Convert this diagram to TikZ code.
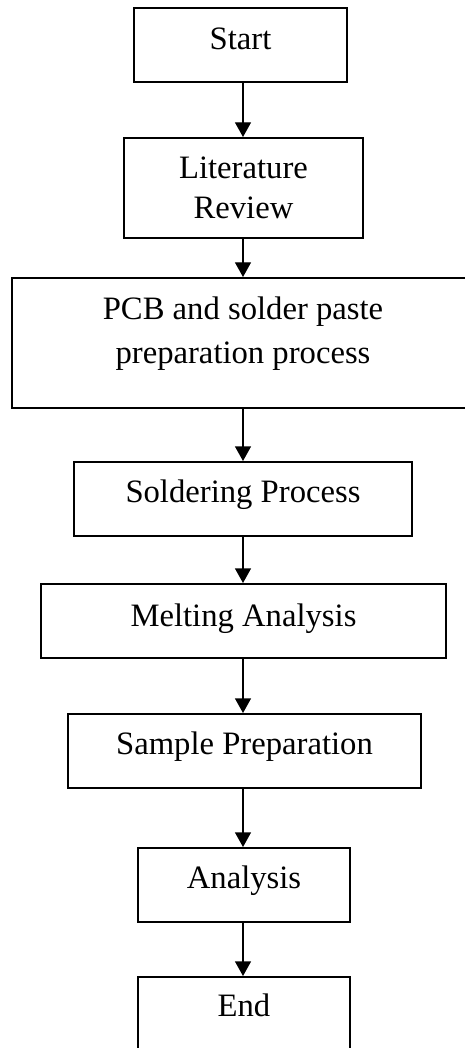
\documentclass[tikz,border=0pt]{standalone}
\usepackage{fontspec}
\setmainfont{Liberation Serif}
\usetikzlibrary{arrows.meta}
\tikzset{
  box/.style={draw=black, line width=1.5pt, rectangle, align=center, inner sep=0pt,
    font=\fontsize{24.5}{30}\selectfont},
  one/.style={text height=16.5pt},
  flow/.style={draw=black, line width=1pt, -{Triangle[length=11pt,width=12pt]}}
}
\begin{document}
\begin{tikzpicture}[x=0.75pt,y=-0.75pt]
\useasboundingbox (0,0) rectangle (464,1048);
\node[box, one, text depth=9.5pt, minimum width=159.75pt, minimum height=55.5pt] (start) at (240.5,45) {Start};
\node[box, text depth=0pt, minimum width=179.25pt, minimum height=75pt] (lit) at (243.5,188) {Literature\\Review};
\node[box, font=\fontsize{24.5}{33}\selectfont, text depth=19.5pt, minimum width=346.5pt, minimum height=97.5pt] (pcb) at (243,343) {PCB and solder paste\\preparation process};
\node[box, one, text depth=11pt, minimum width=253.5pt, minimum height=55.5pt] (sold) at (243,499) {Soldering Process};
\node[box, one, text depth=8pt, minimum width=303.75pt, minimum height=55.5pt] (melt) at (243.5,621) {Melting Analysis};
\node[box, one, text depth=11pt, minimum width=264.75pt, minimum height=55.5pt] (sample) at (244.5,751) {Sample Preparation};
\node[box, one, text depth=11pt, minimum width=159pt, minimum height=55.5pt] (ana) at (244,885) {Analysis};
\node[box, one, text depth=12.5pt, minimum width=159pt, minimum height=55.5pt] (end) at (244,1014) {End};
\draw[flow] (start.south -| 243,0) -- (lit.north -| 243,0);
\draw[flow] (lit.south -| 243,0) -- (pcb.north -| 243,0);
\draw[flow] (pcb.south -| 243,0) -- (sold.north -| 243,0);
\draw[flow] (sold.south -| 243,0) -- (melt.north -| 243,0);
\draw[flow] (melt.south -| 243,0) -- (sample.north -| 243,0);
\draw[flow] (sample.south -| 243,0) -- (ana.north -| 243,0);
\draw[flow] (ana.south -| 243,0) -- (end.north -| 243,0);
\end{tikzpicture}
\end{document}
